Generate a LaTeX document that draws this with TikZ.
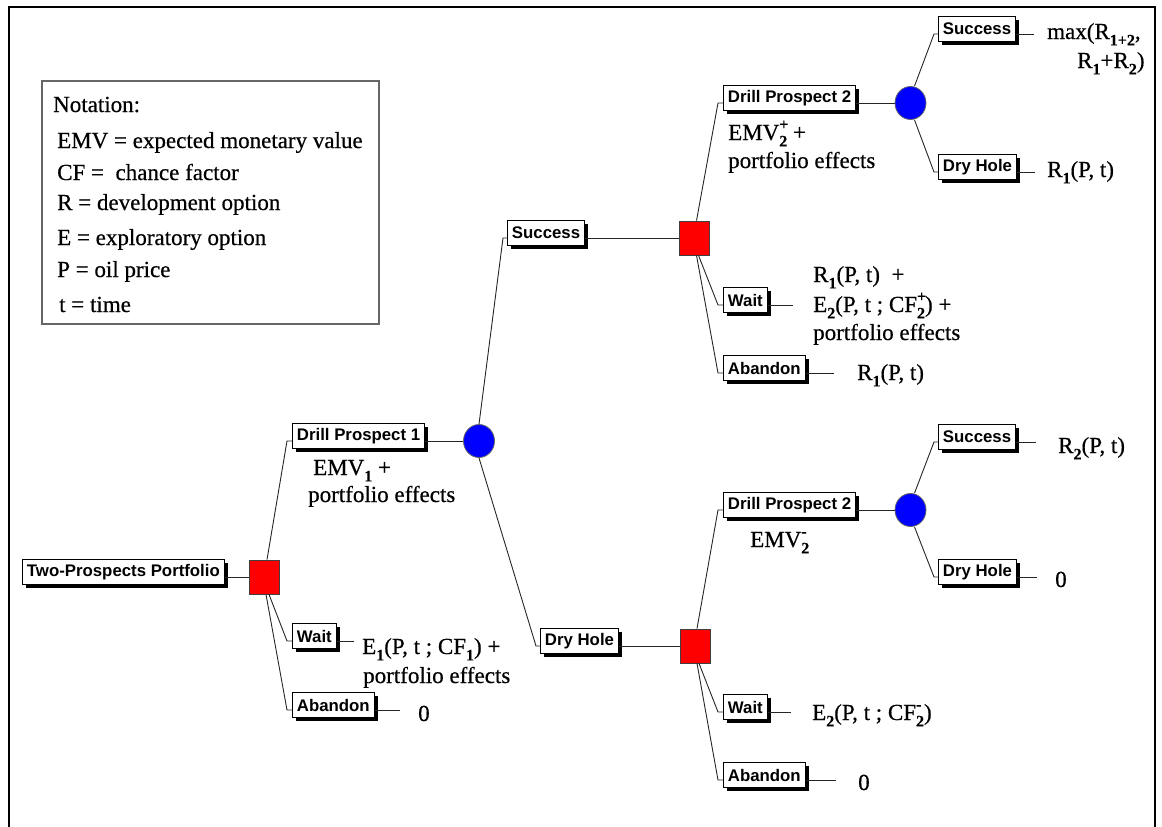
\documentclass[tikz,border=0pt]{standalone}
\usepackage{fontspec}
\setmainfont{Liberation Serif}
\setsansfont{Liberation Sans}
\newfontfamily\valfont[FakeBold=0.5]{Liberation Serif}
\usetikzlibrary{shadows,shapes.geometric}
\newcommand{\lo}[1]{\raisebox{-0.28em}{\fontsize{16}{16}\selectfont\bfseries #1}}
\newcommand{\hi}[1]{\raisebox{0.45em}{\fontsize{16}{16}\selectfont\bfseries #1}}
\newcommand{\lohi}[2]{\makebox[0pt][l]{\hi{#2}}\lo{#1}}
\begin{document}
\begin{tikzpicture}[x=1pt,y=-1pt,
  box/.style={draw=black, fill=white, line width=0.9pt,
    font={\sffamily\bfseries\fontsize{16.8}{18}\selectfont},
    inner xsep=4.5pt, inner ysep=0pt, minimum height=25pt, anchor=west,
    drop shadow={shadow xshift=3.5pt, shadow yshift=-3.5pt, fill=black, opacity=1}},
  dec/.style={draw=black!75, fill=red, minimum width=30pt, minimum height=34pt, inner sep=0pt, line width=0.8pt},
  chc/.style={ellipse, draw=black!60, fill=blue, minimum width=31pt, minimum height=33pt, inner sep=0pt, line width=0.8pt},
  con/.style={draw=black!85, line width=0.9pt},
  lab/.style={font={\valfont\fontsize{23}{25}\selectfont}, inner sep=0pt, anchor=base west},
  notebox/.style={draw=black!60, line width=1.5pt, minimum width=337pt, minimum height=243pt, inner sep=0pt}
]
\useasboundingbox (0,0) rectangle (1162,827);
% frame
\draw[line width=2pt] (9,827) -- (9,7) -- (1155,7) -- (1155,827);

% notation
\node[notebox] (nbox) at (210.5,202.5) {};
\node[lab] (n0) at (53,112) {Notation:};
\node[lab] (n1) at (57,148) {EMV = expected monetary value};
\node[lab] (n2) at (57,180) {CF =\ \ chance factor};
\node[lab] (n3) at (57,210) {R = development option};
\node[lab] (n4) at (57,245) {E = exploratory option};
\node[lab] (n5) at (57,277) {P = oil price};
\node[lab] (n6) at (59,312) {t = time};

% nodes
\node[box] (tp) at (22,572) {Two-Prospects Portfolio};
\node[dec] (sq1) at (264,577) {};
\node[box] (dp1) at (292,436) {Drill Prospect 1};
\node[chc] (c1) at (479,441) {};
\node[box] (w1) at (292,636) {Wait};
\node[box] (ab1) at (292,705) {Abandon};
\node[box] (succ1) at (507,233) {Success};
\node[dec] (sq2) at (694.5,238) {};
\node[box] (dh1) at (540,641) {Dry Hole};
\node[dec] (sq3) at (695,646) {};
\node[box] (dp2a) at (723,98) {Drill Prospect 2};
\node[chc] (c2) at (910.5,103) {};
\node[box] (w2) at (723,300) {Wait};
\node[box] (ab2) at (723,368) {Abandon};
\node[box] (s2) at (938,29) {Success};
\node[box] (dh2) at (938,167) {Dry Hole};
\node[box] (dp2b) at (723,505) {Drill Prospect 2};
\node[chc] (c3) at (910.5,510) {};
\node[box] (s3) at (938,437) {Success};
\node[box] (dh3) at (938,572) {Dry Hole};
\node[box] (w3) at (723,707) {Wait};
\node[box] (ab3) at (723,775) {Abandon};

% connectors: box to shape
\draw[con] ([yshift=-5pt]tp.east) -- (sq1.west);
\draw[con] ([yshift=-5pt]dp1.east) -- (c1.west);
\draw[con] ([yshift=-5pt]succ1.east) -- (sq2.west);
\draw[con] ([yshift=-5pt]dh1.east) -- (sq3.west);
\draw[con] ([yshift=-5pt]dp2a.east) -- (c2.west);
\draw[con] ([yshift=-5pt]dp2b.east) -- (c3.west);

% connectors: shape to child
\draw[con] ([xshift=3pt]sq1.north) -- ([xshift=-5pt,yshift=-5pt]dp1.west) -- ([yshift=-5pt]dp1.west);
\draw[con] ([xshift=5pt]sq1.south) -- ([xshift=-5pt,yshift=-5pt]w1.west) -- ([yshift=-5pt]w1.west);
\draw[con] ([xshift=2pt]sq1.south) -- ([xshift=-5pt,yshift=-5pt]ab1.west) -- ([yshift=-5pt]ab1.west);

\draw[con] (c1.north) -- ([xshift=-4pt,yshift=-5pt]succ1.west) -- ([yshift=-5pt]succ1.west);
\draw[con] (c1.south) -- ([xshift=-4pt,yshift=-5pt]dh1.west) -- ([yshift=-5pt]dh1.west);

\draw[con] ([xshift=2pt]sq2.north) -- ([xshift=-5pt,yshift=-5pt]dp2a.west) -- ([yshift=-5pt]dp2a.west);
\draw[con] ([xshift=4pt]sq2.south) -- ([xshift=-5pt,yshift=-5pt]w2.west) -- ([yshift=-5pt]w2.west);
\draw[con] ([xshift=2pt]sq2.south) -- ([xshift=-5pt,yshift=-5pt]ab2.west) -- ([yshift=-5pt]ab2.west);

\draw[con] ([xshift=2pt]sq3.north) -- ([xshift=-5pt,yshift=-5pt]dp2b.west) -- ([yshift=-5pt]dp2b.west);
\draw[con] ([xshift=4pt]sq3.south) -- ([xshift=-5pt,yshift=-5pt]w3.west) -- ([yshift=-5pt]w3.west);
\draw[con] ([xshift=2pt]sq3.south) -- ([xshift=-5pt,yshift=-5pt]ab3.west) -- ([yshift=-5pt]ab3.west);

\draw[con] ([xshift=4pt]c2.north) -- ([xshift=-4pt,yshift=-5pt]s2.west) -- ([yshift=-5pt]s2.west);
\draw[con] ([xshift=4pt]c2.south) -- ([xshift=-4pt,yshift=-5pt]dh2.west) -- ([yshift=-5pt]dh2.west);
\draw[con] ([xshift=4pt]c3.north) -- ([xshift=-4pt,yshift=-5pt]s3.west) -- ([yshift=-5pt]s3.west);
\draw[con] ([xshift=4pt]c3.south) -- ([xshift=-4pt,yshift=-5pt]dh3.west) -- ([yshift=-5pt]dh3.west);

% leaf connectors
\draw[con] ([yshift=-5pt]w1.east) -- ++(17,0);
\draw[con] ([yshift=-5pt]ab1.east) -- ++(25,0);
\draw[con] ([yshift=-5pt]s2.east) -- ++(18,0);
\draw[con] ([yshift=-5pt]dh2.east) -- ++(18,0);
\draw[con] ([yshift=-5pt]w2.east) -- ++(25,0);
\draw[con] ([yshift=-5pt]ab2.east) -- ++(28,0);
\draw[con] ([yshift=-5pt]s3.east) -- ++(20,0);
\draw[con] ([yshift=-5pt]dh3.east) -- ++(20,0);
\draw[con] ([yshift=-5pt]w3.east) -- ++(23,0);
\draw[con] ([yshift=-5pt]ab3.east) -- ++(30,0);

% value labels
\node[lab] (t1a) at (313,475) {EMV\lo{1} +};
\node[lab] (t1b) at (308,502) {portfolio effects};
\node[lab] (t2a) at (362,654) {E\lo{1}(P, t ; CF\lo{1}) +};
\node[lab] (t2b) at (363,683) {portfolio effects};
\node[lab] (t3) at (418,721) {0};
\node[lab] (t4a) at (1047,39) {max(R\lo{1+2},};
\node[lab] (t4b) at (1077,68) {R\lo{1}+R\lo{2})};
\node[lab] (t5a) at (728,140) {EMV\lohi{2}{+} +};
\node[lab] (t5b) at (728,168) {portfolio effects};
\node[lab] (t6) at (1047,177) {R\lo{1}(P, t)};
\node[lab] (t7a) at (813,282) {R\lo{1}(P, t)\ \ +};
\node[lab] (t7b) at (813,312) {E\lo{2}(P, t ; CF\lohi{2}{+}) +};
\node[lab] (t7c) at (813,340) {portfolio effects};
\node[lab] (t8) at (857,380) {R\lo{1}(P, t)};
\node[lab] (t9) at (1058,453) {R\lo{2}(P, t)};
\node[lab] (t10) at (750,547) {EMV\lohi{2}{-}};
\node[lab] (t11) at (1055,587) {0};
\node[lab] (t12) at (812,720) {E\lo{2}(P, t ; CF\lohi{2}{-})};
\node[lab] (t13) at (858,790) {0};
\end{tikzpicture}
\end{document}
